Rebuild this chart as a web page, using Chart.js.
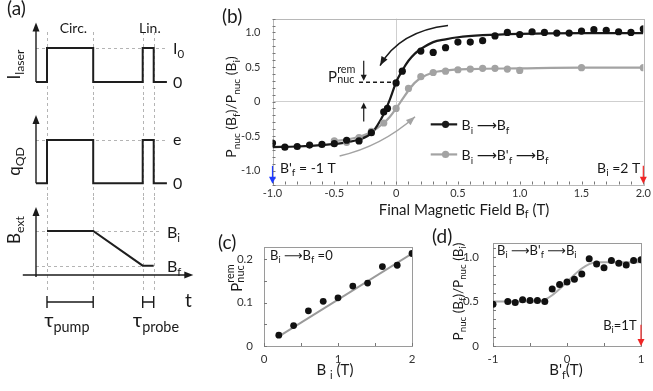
<!DOCTYPE html>
<html>
<head>
<meta charset="utf-8">
<script src="https://cdn.jsdelivr.net/npm/chart.js@4.4.0/dist/chart.umd.min.js"></script>
<style>
html, body { margin: 0; padding: 0; background: #fff; }
#fig { position: relative; width: 653px; height: 391px; overflow: hidden; background: #fff; }
canvas { position: absolute; }
</style>
</head>
<body>
<div id="fig">
<canvas id="a1" width="230" height="97" style="left:0;top:0"></canvas>
<canvas id="a2" width="230" height="100" style="left:0;top:97px"></canvas>
<canvas id="a3" width="230" height="143" style="left:0;top:197px"></canvas>
<canvas id="b" width="438" height="222" style="left:215px;top:0"></canvas>
<canvas id="c" width="215" height="169" style="left:215px;top:222px"></canvas>
<canvas id="d" width="223" height="169" style="left:430px;top:222px"></canvas>
</div>
<script>
Chart.defaults.animation = false;
Chart.defaults.responsive = false;
Chart.defaults.plugins.legend.display = false;
Chart.defaults.plugins.tooltip.enabled = false;
var FONT = 'Lato, "DejaVu Sans", sans-serif';
Chart.defaults.font.family = FONT;

// (a) pulse sequence
var seqTime = [0, 1, 1, 5.2, 5.2, 9.7, 9.7, 10.7, 10.7, 11.9];
var laserLevel = [0, 0, 1, 1, 0, 0, 1, 1, 0, 0];
var chargeLevel = [0, 0, 1, 1, 0, 0, 1, 1, 0, 0];
var fieldTime = [1, 5.2, 9.7, 10.7];
var fieldLevel = [1, 1, 0, 0];
var edgeTimes = [1, 5.2, 9.7, 10.7];

// (b) Pnuc(Bf)/Pnuc(Bi) vs final field
var bBlackX = [-1.0, -0.9, -0.8, -0.7, -0.6, -0.5, -0.4, -0.3, -0.2, -0.1, -0.07, 0.0, 0.05, 0.2, 0.3, 0.4, 0.5, 0.6, 0.7, 0.8, 0.9, 1.0, 1.1, 1.2, 1.3, 1.4, 1.5, 1.6, 1.7, 1.8, 1.9, 2.0];
var bBlackY = [-0.6, -0.66, -0.65, -0.63, -0.62, -0.61, -0.56, -0.57, -0.45, -0.15, -0.1, 0.27, 0.44, 0.73, 0.71, 0.78, 0.86, 0.86, 0.88, 0.95, 1.0, 0.97, 1.01, 1.0, 0.99, 0.99, 1.02, 1.04, 1.03, 1.01, 1.0, 1.05];
var bGreyX = [-0.5, -0.4, -0.3, -0.2, -0.1, 0.0, 0.1, 0.2, 0.3, 0.4, 0.5, 0.6, 0.7, 0.8, 0.9, 1.0, 1.5, 2.0];
var bGreyY = [-0.57, -0.59, -0.52, -0.43, -0.31, -0.1, 0.19, 0.36, 0.42, 0.44, 0.46, 0.47, 0.48, 0.48, 0.47, 0.45, 0.49, 0.49];
var bFitBlackX = [-1.0, -0.8, -0.6, -0.4, -0.3, -0.2, -0.15, -0.1, -0.05, 0.0, 0.05, 0.1, 0.15, 0.2, 0.3, 0.4, 0.5, 0.7, 1.0, 1.5, 2.0];
var bFitBlackY = [-0.66, -0.65, -0.63, -0.59, -0.55, -0.46, -0.34, -0.18, 0.03, 0.28, 0.45, 0.59, 0.69, 0.76, 0.86, 0.9, 0.93, 0.96, 0.98, 0.99, 0.99];
var bFitGreyX = [-0.5, -0.4, -0.3, -0.2, -0.1, -0.05, 0.0, 0.05, 0.1, 0.15, 0.2, 0.3, 0.4, 0.6, 1.0, 1.5, 2.0];
var bFitGreyY = [-0.57, -0.55, -0.51, -0.44, -0.31, -0.22, -0.1, 0.03, 0.16, 0.27, 0.34, 0.42, 0.45, 0.47, 0.48, 0.49, 0.49];
var bTickX = [-1.0, -0.5, 0, 0.5, 1.0, 1.5, 2.0];
var bTickY = [-1.0, -0.5, 0, 0.5, 1.0];

// (c) remanent polarisation vs initial field
var cX = [0.2, 0.4, 0.6, 0.8, 1.0, 1.2, 1.4, 1.6, 1.8, 2.0];
var cY = [0.025, 0.047, 0.081, 0.103, 0.111, 0.138, 0.145, 0.183, 0.186, 0.213];
var cFitX = [0.18, 2.0];
var cFitY = [0.02, 0.213];
var cTickX = [0, 1, 2];
var cTickY = [0, 0.1, 0.2];

// (d) return to Bi after excursion to B'f
var dX = [-1.0, -0.8, -0.7, -0.6, -0.5, -0.4, -0.3, -0.2, -0.1, 0.0, 0.1, 0.2, 0.3, 0.4, 0.5, 0.6, 0.7, 0.8, 0.9, 1.0];
var dY = [0.47, 0.5, 0.49, 0.52, 0.51, 0.51, 0.5, 0.64, 0.69, 0.72, 0.75, 0.81, 0.98, 0.92, 0.88, 0.96, 0.93, 0.91, 0.96, 0.97];
var dFitX = [-1.0, -0.5, -0.4, -0.3, -0.2, -0.1, 0.0, 0.1, 0.2, 0.3, 0.4, 0.5, 1.0];
var dFitY = [0.5, 0.5, 0.5, 0.52, 0.57, 0.64, 0.72, 0.8, 0.87, 0.92, 0.94, 0.94, 0.94];
var dTickX = [-1, 0, 1];
var dTickY = [0, 0.5, 1.0];

function pts(xs, ys) { return xs.map(function (x, i) { return {x: x, y: ys[i]}; }); }
function setFont(ctx, s) { ctx.font = s + 'px ' + FONT; }

// text with sub/superscripts; parts: 'txt' | ['txt','sub'] | ['txt','sup'] | ['up','both','down']
function rich(ctx, parts, x, y, size, align, color) {
  ctx.save();
  ctx.fillStyle = color || '#1a1a1a';
  ctx.textAlign = 'left';
  ctx.textBaseline = 'alphabetic';
  var segs = parts.map(function (p) {
    if (!Array.isArray(p)) p = [p, ''];
    var s = p[1] ? size * 0.72 : size;
    setFont(ctx, s);
    var w = ctx.measureText(p[0]).width;
    if (p[2]) w = Math.max(w, ctx.measureText(p[2]).width);
    return {t: p[0], m: p[1], t2: p[2], s: s, w: w};
  });
  var total = segs.reduce(function (a, g) { return a + g.w; }, 0);
  var cx = align === 'center' ? x - total / 2 : align === 'right' ? x - total : x;
  segs.forEach(function (g) {
    setFont(ctx, g.s);
    if (g.m === 'sub') ctx.fillText(g.t, cx, y + size * 0.26);
    else if (g.m === 'sup') ctx.fillText(g.t, cx, y - size * 0.4);
    else if (g.m === 'both') { ctx.fillText(g.t, cx, y - size * 0.55); ctx.fillText(g.t2, cx, y + size * 0.12); }
    else ctx.fillText(g.t, cx, y);
    cx += g.w;
  });
  ctx.restore();
}
function richRot(ctx, parts, cx, cy, size, color) {
  ctx.save();
  ctx.translate(cx, cy);
  ctx.rotate(-Math.PI / 2);
  rich(ctx, parts, 0, size * 0.35, size, 'center', color);
  ctx.restore();
}
function head(ctx, x, y, ang, len, half) {
  ctx.beginPath();
  ctx.moveTo(x, y);
  ctx.lineTo(x - len * Math.cos(ang) - half * Math.sin(ang), y - len * Math.sin(ang) + half * Math.cos(ang));
  ctx.lineTo(x - len * Math.cos(ang) + half * Math.sin(ang), y - len * Math.sin(ang) - half * Math.cos(ang));
  ctx.closePath();
  ctx.fill();
}
function arrow(ctx, x0, y0, x1, y1, color, w, len, half) {
  ctx.save();
  ctx.strokeStyle = ctx.fillStyle = color;
  ctx.lineWidth = w;
  var ang = Math.atan2(y1 - y0, x1 - x0);
  ctx.beginPath();
  ctx.moveTo(x0, y0);
  ctx.lineTo(x1 - len * 0.7 * Math.cos(ang), y1 - len * 0.7 * Math.sin(ang));
  ctx.stroke();
  head(ctx, x1, y1, ang, len, half);
  ctx.restore();
}
function curveArrow(ctx, x0, y0, qx, qy, x1, y1, color, w, len, half) {
  ctx.save();
  ctx.strokeStyle = ctx.fillStyle = color;
  ctx.lineWidth = w;
  ctx.beginPath();
  ctx.moveTo(x0, y0);
  ctx.quadraticCurveTo(qx, qy, x1, y1);
  ctx.stroke();
  head(ctx, x1, y1, Math.atan2(y1 - qy, x1 - qx), len, half);
  ctx.restore();
}

// ---------- panel (a) ----------
function seqTools(chart) {
  var x = chart.scales.x, y = chart.scales.y;
  return {
    X: function (v) { return x.getPixelForValue(v); },
    Y: function (v) { return y.getPixelForValue(v); },
    ctx: chart.ctx, a: chart.chartArea
  };
}
function dashedEdges(chart, y0, y1) {
  var t = seqTools(chart), ctx = t.ctx;
  ctx.save();
  ctx.strokeStyle = '#b4b4b4';
  ctx.lineWidth = 1;
  ctx.setLineDash([3, 3]);
  ctx.beginPath();
  edgeTimes.forEach(function (e) {
    var px = Math.round(t.X(e)) + 0.5;
    ctx.moveTo(px, y0); ctx.lineTo(px, y1);
  });
  ctx.stroke();
  ctx.restore();
}
function levelLine(chart, v, t0, t1) {
  var t = seqTools(chart), ctx = t.ctx;
  ctx.save();
  ctx.strokeStyle = '#b4b4b4';
  ctx.lineWidth = 1;
  ctx.setLineDash([3, 3]);
  ctx.beginPath();
  var py = Math.round(t.Y(v)) + 0.5;
  ctx.moveTo(t.X(t0), py); ctx.lineTo(t.X(t1), py);
  ctx.stroke();
  ctx.restore();
}
function vAxis(chart, yBottom) {
  var t = seqTools(chart);
  arrow(t.ctx, t.X(0), yBottom, t.X(0), t.a.top, '#1a1a1a', 1.4, 9, 3.5);
}
function traceSet(xs, ys) {
  return {data: pts(xs, ys), showLine: true, pointRadius: 0, borderColor: '#1e1e1e', borderWidth: 2, clip: false};
}
function seqChart(id, data, yMin, yMax, padTop, padBottom, plugin) {
  return new Chart(document.getElementById(id), {
    type: 'scatter',
    data: {datasets: [data]},
    options: {
      layout: {padding: {left: 36, right: 62, top: padTop, bottom: padBottom}},
      scales: {
        x: {type: 'linear', display: false, min: 0, max: 12},
        y: {type: 'linear', display: false, min: yMin, max: yMax}
      }
    },
    plugins: [plugin]
  });
}

seqChart('a1', traceSet(seqTime, laserLevel), -0.3, 1.75, 22.5, 4.8, {
  id: 'laserDecor',
  beforeDatasetsDraw: function (chart) {
    dashedEdges(chart, 32, chart.height);
    levelLine(chart, 1, 0, 11.9);
  },
  afterDraw: function (chart) {
    var t = seqTools(chart), ctx = t.ctx;
    vAxis(chart, t.Y(0));
    rich(ctx, ['I', ['0', 'sub']], t.X(12.45), t.Y(1) + 6, 16);
    rich(ctx, ['0'], t.X(12.45), t.Y(0) + 5.5, 16);
    richRot(ctx, ['I', ['laser', 'sub']], 14, 64.5, 17);
    rich(ctx, ['(a)'], 7, 15, 19);
    rich(ctx, ['Circ.'], t.X(3.4), 33, 14, 'center');
    rich(ctx, ['Lin.'], t.X(10.35), 33, 14, 'center');
  }
});

seqChart('a2', traceSet(seqTime, chargeLevel), -0.25, 1.58, 17.9, 2.9, {
  id: 'chargeDecor',
  beforeDatasetsDraw: function (chart) {
    dashedEdges(chart, 0, chart.height);
    levelLine(chart, 1, 0, 11.9);
  },
  afterDraw: function (chart) {
    var t = seqTools(chart), ctx = t.ctx;
    vAxis(chart, t.Y(0));
    rich(ctx, ['e'], t.X(12.45), t.Y(1) + 5, 16);
    rich(ctx, ['0'], t.X(12.45), t.Y(0) + 5.5, 16);
    richRot(ctx, ['q', ['QD', 'sub']], 14, 64.5, 17);
  }
});

seqChart('a3', traceSet(fieldTime, fieldLevel), -0.268, 1.69, 10, 65, {
  id: 'fieldDecor',
  beforeDatasetsDraw: function (chart) {
    dashedEdges(chart, 0, 96);
    levelLine(chart, 1, 0, 11.4);
    levelLine(chart, 0, 0, 9.7);
  },
  afterDraw: function (chart) {
    var t = seqTools(chart), ctx = t.ctx, a = t.a;
    vAxis(chart, a.bottom + 2);
    arrow(ctx, t.X(-1.2), a.bottom, t.X(14.3), a.bottom, '#1a1a1a', 1.4, 9, 3.5);
    rich(ctx, ['B', ['i', 'sub']], t.X(11.9), t.Y(1) + 7, 16);
    rich(ctx, ['B', ['f', 'sub']], t.X(11.9), t.Y(0) + 6, 16);
    richRot(ctx, ['B', ['ext', 'sub']], 14, 33, 17);
    // pump / probe durations
    ctx.save();
    ctx.strokeStyle = '#1a1a1a';
    ctx.lineWidth = 1.4;
    var by = a.bottom + 27;
    [[1, 5.2], [9.7, 10.7]].forEach(function (r) {
      var x0 = t.X(r[0]), x1 = t.X(r[1]);
      ctx.beginPath();
      ctx.moveTo(x0, by); ctx.lineTo(x1, by);
      ctx.moveTo(x0, by - 6); ctx.lineTo(x0, by + 6);
      ctx.moveTo(x1, by - 6); ctx.lineTo(x1, by + 6);
      ctx.stroke();
    });
    ctx.restore();
    rich(ctx, ['\u03C4', ['pump', 'sub']], t.X(2.8), a.bottom + 52, 20, 'center');
    rich(ctx, ['\u03C4', ['probe', 'sub']], t.X(10.9), a.bottom + 52, 20, 'center');
    rich(ctx, ['t'], t.X(13.55), a.bottom + 32, 19);
  }
});

// ---------- shared frame for (b)-(d) ----------
function framePlugin(dx, dy, color) {
  return {
    id: 'frame',
    beforeDatasetsDraw: function (chart) {
      var ctx = chart.ctx, a = chart.chartArea, x = chart.scales.x, y = chart.scales.y;
      ctx.save();
      ctx.strokeStyle = color;
      ctx.lineWidth = 1;
      ctx.strokeRect(Math.round(a.left) + 0.5, Math.round(a.top) + 0.5, Math.round(a.right - a.left), Math.round(a.bottom - a.top));
      ctx.strokeStyle = '#777';
      ctx.beginPath();
      var v, p;
      for (v = Math.ceil(x.min / dx - 1e-6) * dx; v <= x.max + 1e-6; v += dx) {
        p = Math.round(x.getPixelForValue(v)) + 0.5;
        ctx.moveTo(p, a.bottom); ctx.lineTo(p, a.bottom - 3);
      }
      for (v = Math.ceil(y.min / dy - 1e-6) * dy; v <= y.max + 1e-6; v += dy) {
        p = Math.round(y.getPixelForValue(v)) + 0.5;
        ctx.moveTo(a.left, p); ctx.lineTo(a.left + 3, p);
      }
      ctx.stroke();
      ctx.restore();
    }
  };
}
function fixedTicks(arr) {
  return function (scale) { scale.ticks = arr.map(function (v) { return {value: v}; }); };
}
function fmt(v) { return v === 0 ? '0' : v.toFixed(1); }

// ---------- panel (b) ----------
new Chart(document.getElementById('b'), {
  type: 'scatter',
  data: {
    datasets: [
      {data: pts(bBlackX, bBlackY), pointRadius: 3.6, backgroundColor: '#111', borderWidth: 0},
      {data: pts(bGreyX, bGreyY), pointRadius: 3.6, backgroundColor: '#a3a3a3', borderWidth: 0},
      {data: pts(bFitBlackX, bFitBlackY), showLine: true, pointRadius: 0, borderColor: '#1a1a1a', borderWidth: 2.2, cubicInterpolationMode: 'monotone'},
      {data: pts(bFitGreyX, bFitGreyY), showLine: true, pointRadius: 0, borderColor: '#a3a3a3', borderWidth: 2.2, cubicInterpolationMode: 'monotone'}
    ]
  },
  options: {
    layout: {padding: {left: 0, top: 3.5, right: 7, bottom: 0}},
    scales: {
      x: {
        type: 'linear', min: -1, max: 2,
        afterBuildTicks: fixedTicks(bTickX),
        afterFit: function (s) { s.height = 37.5; },
        ticks: {padding: 2, color: '#333', font: {size: 11}, autoSkip: false, maxRotation: 0, callback: fmt},
        grid: {drawTicks: false, color: function (c) { return c.tick && c.tick.value === 0 ? '#cfcfcf' : 'rgba(0,0,0,0)'; }},
        border: {display: false}
      },
      y: {
        type: 'linear', min: -1.2, max: 1.2,
        afterBuildTicks: fixedTicks(bTickY),
        afterFit: function (s) { s.width = 57.5; },
        ticks: {padding: 12, color: '#333', font: {size: 11}, autoSkip: false, callback: fmt},
        grid: {drawTicks: false, color: function (c) { return c.tick && c.tick.value === 0 ? '#cfcfcf' : 'rgba(0,0,0,0)'; }},
        border: {display: false}
      }
    }
  },
  plugins: [framePlugin(0.1, 0.1, '#b8b8b8'), {
    id: 'bAnnot',
    afterDraw: function (chart) {
      var ctx = chart.ctx, x = chart.scales.x, y = chart.scales.y;
      var X = function (v) { return x.getPixelForValue(v); };
      var Y = function (v) { return y.getPixelForValue(v); };
      rich(ctx, ['(b)'], 7, 23, 19);
      richRot(ctx, ['P', ['nuc', 'sub'], ' (B', ['f', 'sub'], ')/P', ['nuc', 'sub'], ' (B', ['i', 'sub'], ')'], 16, 107, 14);
      rich(ctx, ['Final Magnetic Field B', ['f', 'sub'], ' (T)'], 249, 214.5, 15, 'center');
      // remanent polarisation marker
      ctx.save();
      ctx.strokeStyle = '#1a1a1a';
      ctx.lineWidth = 1.5;
      ctx.setLineDash([4, 3]);
      ctx.beginPath();
      ctx.moveTo(X(-0.3), Y(0.28)); ctx.lineTo(X(0), Y(0.28));
      ctx.stroke();
      ctx.restore();
      arrow(ctx, X(-0.262), Y(0.59), X(-0.262), Y(0.30), '#1a1a1a', 1.2, 6, 3);
      arrow(ctx, X(-0.262), Y(-0.29), X(-0.262), Y(-0.015), '#1a1a1a', 1.2, 6, 3);
      rich(ctx, ['P', ['rem', 'both', 'nuc']], X(-0.55), Y(0.29), 15);
      // sweep direction arrows
      curveArrow(ctx, X(0.42), Y(1.1), X(0.03), Y(1.02), X(-0.13), Y(0.52), '#1a1a1a', 1.5, 9, 3.5);
      curveArrow(ctx, X(-0.457), Y(-0.787), X(-0.12), Y(-0.65), X(0.153), Y(-0.22), '#a3a3a3', 1.5, 9, 3.5);
      // legend
      [[-0.33, '#1a1a1a', ['B', ['i', 'sub'], ' \u27F6B', ['f', 'sub']]],
       [-0.765, '#a3a3a3', ['B', ['i', 'sub'], ' \u27F6B\'', ['f', 'sub'], ' \u27F6B', ['f', 'sub']]]].forEach(function (l) {
        ctx.save();
        ctx.strokeStyle = ctx.fillStyle = l[1];
        ctx.lineWidth = 2.2;
        ctx.beginPath();
        ctx.moveTo(X(0.28), Y(l[0])); ctx.lineTo(X(0.494), Y(l[0]));
        ctx.stroke();
        ctx.beginPath();
        ctx.arc(X(0.4), Y(l[0]), 3.6, 0, Math.PI * 2);
        ctx.fill();
        ctx.restore();
        rich(ctx, l[2], X(0.53), Y(l[0]) + 5.5, 14);
      });
      // field markers
      arrow(ctx, X(-1), Y(-0.93), X(-1), Y(-1.19), '#1f3cff', 1.2, 7, 3.5);
      arrow(ctx, X(2), Y(-0.93), X(2), Y(-1.19), '#f02525', 1.2, 7, 3.5);
      rich(ctx, ['B\'', ['f', 'sub'], ' = -1 T'], X(-0.94), Y(-1.03), 14);
      rich(ctx, ['B', ['i', 'sub'], ' =2 T'], X(1.975), Y(-1.03), 14, 'right');
    }
  }]
});

// ---------- panel (c) ----------
new Chart(document.getElementById('c'), {
  type: 'scatter',
  data: {
    datasets: [
      {data: pts(cX, cY), pointRadius: 3.4, backgroundColor: '#111', borderWidth: 0},
      {data: pts(cFitX, cFitY), showLine: true, pointRadius: 0, borderColor: '#9a9a9a', borderWidth: 2}
    ]
  },
  options: {
    layout: {padding: {left: 0, top: 25, right: 18, bottom: 0}},
    scales: {
      x: {
        type: 'linear', min: 0, max: 2,
        afterBuildTicks: fixedTicks(cTickX),
        afterFit: function (s) { s.height = 45; },
        ticks: {padding: -2, color: '#333', font: {size: 11.5}, autoSkip: false, maxRotation: 0, callback: function (v) { return String(v); }},
        grid: {display: false}, border: {display: false}
      },
      y: {
        type: 'linear', min: 0, max: 0.228,
        afterBuildTicks: fixedTicks(cTickY),
        afterFit: function (s) { s.width = 49; },
        ticks: {padding: 3, color: '#333', font: {size: 11.5}, autoSkip: false, callback: function (v) { return v === 0 ? '0' : v.toFixed(1); }},
        grid: {display: false}, border: {display: false}
      }
    }
  },
  plugins: [framePlugin(0.5, 0.05, '#9a9a9a'), {
    id: 'cAnnot',
    afterDraw: function (chart) {
      var ctx = chart.ctx, a = chart.chartArea;
      rich(ctx, ['(c)'], 3, 27, 19);
      rich(ctx, ['B', ['i', 'sub'], ' \u27F6B', ['f', 'sub'], ' =0'], a.left + 6, 37.5, 13);
      richRot(ctx, ['P', ['rem', 'both', 'nuc']], 22, 56, 15);
      rich(ctx, ['B ', ['i', 'sub'], ' (T)'], 120, 153, 15, 'center');
    }
  }]
});

// ---------- panel (d) ----------
new Chart(document.getElementById('d'), {
  type: 'scatter',
  data: {
    datasets: [
      {data: pts(dX, dY), pointRadius: 3.5, backgroundColor: '#111', borderWidth: 0},
      {data: pts(dFitX, dFitY), showLine: true, pointRadius: 0, borderColor: '#aaaaaa', borderWidth: 2, cubicInterpolationMode: 'monotone'}
    ]
  },
  options: {
    layout: {padding: {left: 0, top: 21, right: 12, bottom: 0}},
    scales: {
      x: {
        type: 'linear', min: -1, max: 1,
        afterBuildTicks: fixedTicks(dTickX),
        afterFit: function (s) { s.height = 45; },
        ticks: {padding: -2, color: '#333', font: {size: 11.5}, autoSkip: false, maxRotation: 0, callback: function (v) { return String(v); }},
        grid: {display: false}, border: {display: false}
      },
      y: {
        type: 'linear', min: 0, max: 1.157,
        afterBuildTicks: fixedTicks(dTickY),
        afterFit: function (s) { s.width = 63; },
        ticks: {padding: 6, color: '#333', font: {size: 11.5}, autoSkip: false, callback: function (v) { return v === 0 ? '0' : v.toFixed(1); }},
        grid: {display: false}, border: {display: false}
      }
    }
  },
  plugins: [framePlugin(0.5, 0.1, '#9a9a9a'), {
    id: 'dAnnot',
    afterDraw: function (chart) {
      var ctx = chart.ctx, a = chart.chartArea, x = chart.scales.x, y = chart.scales.y;
      rich(ctx, ['(d)'], 2, 21, 19);
      rich(ctx, ['B', ['i', 'sub'], ' \u27F6B\'', ['f', 'sub'], ' \u27F6B', ['i', 'sub']], a.left + 4, 32.5, 13);
      richRot(ctx, ['P', ['nuc', 'sub'], ' (B', ['f', 'sub'], ')/P', ['nuc', 'sub'], ' (B', ['i', 'sub'], ')'], 28, 69.5, 13.5);
      rich(ctx, ['B\'', ['f', 'sub'], '(T)'], 136, 153, 15, 'center');
      arrow(ctx, x.getPixelForValue(1), y.getPixelForValue(0.24), x.getPixelForValue(1), y.getPixelForValue(0), '#f02525', 1.2, 7, 3.5);
      rich(ctx, ['B', ['i', 'sub'], '=1T'], x.getPixelForValue(0.94), y.getPixelForValue(0.18), 13, 'right');
    }
  }]
});
</script>
</body>
</html>
